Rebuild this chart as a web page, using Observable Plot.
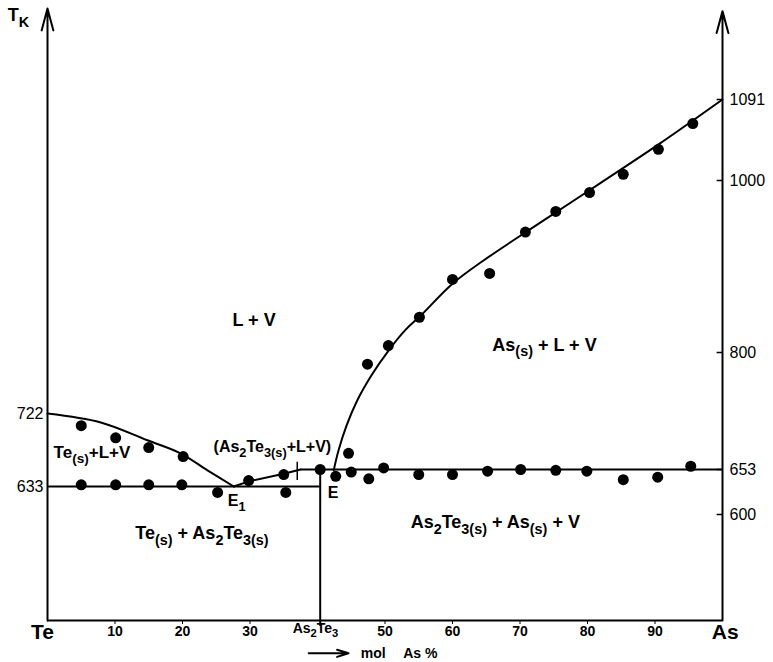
<!DOCTYPE html>
<html><head><meta charset="utf-8">
<script src="https://cdn.jsdelivr.net/npm/d3@7"></script>
<script src="https://cdn.jsdelivr.net/npm/@observablehq/plot@0.6"></script>
<style>body{margin:0;background:#fff} svg{display:block}</style>
</head><body><div id="chart"></div>
<script>
// Experimental points (x = mol % As, T = kelvin)
const ptX = [5.0,10.1,15.0,20.1, 5.0,10.1,15.0,19.9,
  25.2,29.8,35.0,35.3,40.4,42.7,44.6,45.0,47.6,49.8,55.0,60.0,65.2,70.1,75.3,79.9,85.3,90.4,95.3,
  47.4,50.5,55.1,60.0,65.5,70.8,75.3,80.3,85.3,90.5,95.6];
const ptT = [707,692,680,669, 635,635,635,635,
  626,640,647,626,653,645,673,650,642,655,647,647,651,653,652,651,641,644,657,
  785,808,841,885,892,940,964,986,1007,1035,1064];

// Te liquidus
const teLiqX = [0, 7.9, 14.8, 19.7, 23.7, 27.6];
const teLiqT = [722, 711, 689, 673, 652, 633];
// As2Te3 liquidus (short)
const a2t3LiqX = [27.6, 29.8, 35.0, 37.5];
const a2t3LiqT = [633, 639, 648, 653];
// As liquidus
const asLiqX = [42.4, 43.1, 44.3, 45.9, 48.0, 50.5, 53.0, 55.3, 60.0, 64.6, 73.0, 81.9, 90.8, 100];
const asLiqT = [652, 676, 707, 739, 771, 802, 826, 843, 880, 907, 951, 997, 1042, 1091];

// Invariant temperatures / composition
const eutecticLow = 633, eutecticHigh = 653, compoundX = 40.4;

// Axis ticks
const leftTicks = [633, 722];
const rightTicks = [600, 653, 800, 1000, 1091];
const xTicks = [10, 20, 30, 50, 60, 70, 80, 90];

// Region labels (markup: _{...} = subscript)
const regionText = ["L + V", "As_{(s)} + L + V", "Te_{(s)}+L+V", "(As_{2}Te_{3(s)}+L+V)",
  "Te_{(s)} + As_{2}Te_{3(s)}", "As_{2}Te_{3(s)} + As_{(s)} + V", "E_{1}", "E"];
const regionX = [27.4, 65.9, 0.9, 24.6, 13.0, 53.8, 26.7, 41.5];
const regionT = [837, 809, 674, 681, 578, 591, 616, 626];
const regionSize = [18, 18, 17, 16, 18, 18, 16, 16];

const yBottom = 474, yTop = 1195;

const pts = ptX.map((x, i) => ({x, T: ptT[i]}));
const teLiq = teLiqX.map((x, i) => ({x, T: teLiqT[i]}));
const a2t3Liq = a2t3LiqX.map((x, i) => ({x, T: a2t3LiqT[i]}));
const asLiq = asLiqX.map((x, i) => ({x, T: asLiqT[i]}));
const regions = regionText.map((t, i) => ({t, x: regionX[i], T: regionT[i], s: regionSize[i]}));

const plot = Plot.plot({
  width: 773, height: 662,
  marginLeft: 47, marginRight: 51, marginTop: 7, marginBottom: 42,
  style: {fontFamily: "'Liberation Sans', Arial, sans-serif", background: "white", color: "black", overflow: "visible"},
  x: {domain: [0, 100]},
  y: {type: "linear",
      domain: [474, 600, 633, 653, 722, 800, 1000, 1091, 1195],
      range:  [620, 514, 486, 469, 413, 352, 180, 99, 8]},
  marks: [
    // frame lines
    Plot.ruleY([yBottom], {x1: 0, x2: 100, strokeWidth: 2}),
    Plot.arrow([{x1: 0, y1: yBottom, x2: 0, y2: yTop}], {x1: "x1", y1: "y1", x2: "x2", y2: "y2", headLength: 17, headAngle: 30, strokeWidth: 2}),
    Plot.arrow([{x1: 100, y1: yBottom, x2: 100, y2: 1192}], {x1: "x1", y1: "y1", x2: "x2", y2: "y2", headLength: 17, headAngle: 30, strokeWidth: 2}),
    // right-axis inward ticks
    Plot.ruleY(rightTicks, {x1: 99.2, x2: 100, strokeWidth: 1.5}),
    // invariant lines
    Plot.ruleY([eutecticLow], {x1: 0, x2: compoundX, strokeWidth: 2}),
    Plot.ruleY([eutecticHigh], {x1: 37.5, x2: 100, strokeWidth: 2}),
    Plot.ruleX([compoundX], {y1: 467, y2: eutecticHigh, strokeWidth: 2}),
    Plot.ruleX([37.0], {y1: 640, y2: 662, strokeWidth: 1.5}),
    // liquidus curves
    Plot.line(teLiq, {x: "x", y: "T", curve: "catmull-rom", strokeWidth: 2}),
    Plot.line(a2t3Liq, {x: "x", y: "T", strokeWidth: 2}),
    Plot.line(asLiq, {x: "x", y: "T", curve: "catmull-rom", strokeWidth: 2}),
    // points
    Plot.dot(pts, {x: "x", y: "T", r: 5.5, fill: "black", stroke: "none"}),
    // axes
    Plot.axisY({anchor: "left", ticks: leftTicks, tickFormat: d => String(d), tickSize: 0, tickPadding: 4, fontSize: 16, label: null}),
    Plot.axisY({anchor: "right", ticks: rightTicks, tickFormat: d => String(d), tickSize: 0, tickPadding: 7, fontSize: 16, label: null}),
    Plot.axisX({ticks: xTicks, tickFormat: d => String(d), tickSize: 4, tickPadding: 2, fontSize: 14, fontWeight: "bold", label: null}),
    // bottom labels
    Plot.text(["Te"], {x: -0.74, y: 460, text: d => d, fontSize: 21, fontWeight: "bold", lineAnchor: "middle"}),
    Plot.text(["As"], {x: 100.4, y: 460, text: d => d, fontSize: 21, fontWeight: "bold", lineAnchor: "middle"}),
    Plot.text(["As_{2}Te_{3}"], {x: 39.7, y: 465, text: d => d, fontSize: 14, fontWeight: "bold", lineAnchor: "middle"}),
    Plot.arrow([{x1: 38.7, x2: 44.6, y: 435}], {x1: "x1", x2: "x2", y1: "y", y2: "y", headLength: 9, headAngle: 35, strokeWidth: 2}),
    Plot.text(["mol"], {x: 46.4, y: 435, text: d => d, fontSize: 14, fontWeight: "bold", textAnchor: "start", lineAnchor: "middle"}),
    Plot.text(["As %"], {x: 52.7, y: 435, text: d => d, fontSize: 14, fontWeight: "bold", textAnchor: "start", lineAnchor: "middle"}),
    Plot.text(["T_{K}"], {x: -5.9, y: 1187, text: d => d, fontSize: 18, fontWeight: "bold", textAnchor: "start", lineAnchor: "middle"}),
    // region labels
    Plot.text(regions, {x: "x", y: "T", text: "t", fontSize: "s", fontWeight: "bold", textAnchor: "start", lineAnchor: "middle"})
  ]
});

document.getElementById("chart").appendChild(plot);

// turn _{...} markup into subscript tspans
d3.select(plot).selectAll("text").each(function() {
  const s = this.textContent;
  if (!s.includes("_{")) return;
  const fs = parseFloat(getComputedStyle(this).fontSize) || 16;
  const t = d3.select(this);
  t.text(null);
  const re = /_\{([^}]*)\}|([^_]+)/g;
  let m, shifted = false;
  while ((m = re.exec(s))) {
    if (m[1] !== undefined) {
      const ts = t.append("tspan").text(m[1]).attr("font-size", (fs * 0.8) + "px");
      if (!shifted) { ts.attr("dy", (fs * 0.32) + "px"); shifted = true; }
    } else {
      const ts = t.append("tspan").text(m[2]);
      if (shifted) { ts.attr("dy", (-fs * 0.32) + "px"); shifted = false; }
    }
  }
});
</script></body></html>
